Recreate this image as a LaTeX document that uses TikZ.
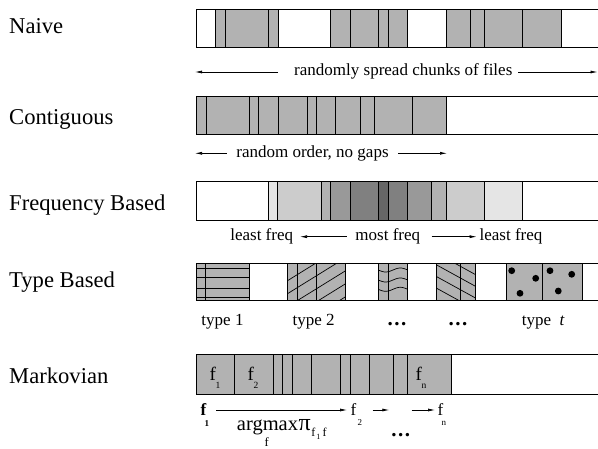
\documentclass[tikz,border=0pt]{standalone}
\usepackage{fontspec}
\setmainfont{Liberation Serif}
\usetikzlibrary{arrows.meta}
\definecolor{chunk}{gray}{0.70}
\definecolor{fq1}{gray}{0.90}
\definecolor{fq2}{gray}{0.80}
\definecolor{fq3}{gray}{0.70}
\definecolor{fq4}{gray}{0.60}
\definecolor{fq5}{gray}{0.50}
\definecolor{fq6}{gray}{0.40}
\begin{document}
\begin{tikzpicture}[x=1pt,y=-1pt,
  barline/.style={line width=0.9pt},
  sep/.style={line width=0.8pt},
  arr/.style={line width=0.7pt,-{Latex[length=7pt,width=3pt]}},
  rowlabel/.style={anchor=base west,inner sep=0,font=\fontsize{22.6}{24}\selectfont},
  small/.style={anchor=base,inner sep=0,font=\fontsize{17}{18}\selectfont},
  flab/.style={anchor=base west,inner sep=0,font=\fontsize{19}{19}\selectfont},
  fsub/.style={anchor=base west,inner sep=0,font=\fontsize{9.5}{10}\selectfont},
  hatch/.style={line width=0.7pt},
  dotsty/.style={anchor=base,inner sep=0,font=\fontsize{21}{21}\selectfont\bfseries}
]
\useasboundingbox (0,0) rectangle (598,449);

% ---------- row labels
\node[rowlabel] (lnaive) at (9,33.3) {Naive};
\node[rowlabel] (lcont) at (9,124.3) {Contiguous};
\node[rowlabel] (lfreq) at (9,210.7) {Frequency Based};
\node[rowlabel] (ltype) at (9,287.3) {Type Based};
\node[rowlabel] (lmark) at (9,384) {Markovian};

% ---------- Naive
\fill[chunk] (215.3,9.3) rectangle (278.3,47.7);
\fill[chunk] (330.7,9.3) rectangle (407.7,47.7);
\fill[chunk] (446,9.3) rectangle (561.3,47.7);
\foreach \x in {196,215.3,225,268.7,278.3,330.7,350,378.7,388.3,407.7,446,470,484,522.7,561.3}
  \draw[sep] (\x,9.3) -- (\x,47.7);
\draw[barline] (196,9.3) -- (598,9.3) (196,47.7) -- (598,47.7);
\node[small] (tnaive) at (403.3,76) {randomly spread chunks of files};
\coordinate (na1) at (278,72); \coordinate (na2) at (195,72);
\coordinate (na3) at (518,72); \coordinate (na4) at (597.5,72);
\draw[arr] (na1) -- (na2);
\draw[arr] (na3) -- (na4);

% ---------- Contiguous
\fill[chunk] (196,96) rectangle (446,134);
\foreach \x in {196,206,249.3,258.7,278,307.3,316.7,335.7,360,374.3,412.7,446}
  \draw[sep] (\x,96) -- (\x,134);
\draw[barline] (196,96) -- (598,96) (196,134) -- (598,134);
\node[small] (tcont) at (312.5,157.7) {random order, no gaps};
\coordinate (ca1) at (226.7,153.3); \coordinate (ca2) at (195,153.3);
\coordinate (ca3) at (398,153.3); \coordinate (ca4) at (447,153.3);
\draw[arr] (ca1) -- (ca2);
\draw[arr] (ca3) -- (ca4);

% ---------- Frequency based
\fill[fq1] (268.3,181.7) rectangle (277.7,220);
\fill[fq2] (277.7,181.7) rectangle (321,220);
\fill[fq3] (321,181.7) rectangle (330.7,220);
\fill[fq4] (330.7,181.7) rectangle (350,220);
\fill[fq5] (350,181.7) rectangle (378.7,220);
\fill[fq6] (378.7,181.7) rectangle (388.3,220);
\fill[fq5] (388.3,181.7) rectangle (407.7,220);
\fill[fq4] (407.7,181.7) rectangle (431.7,220);
\fill[fq3] (431.7,181.7) rectangle (446,220);
\fill[fq2] (446,181.7) rectangle (484.3,220);
\fill[fq1] (484.3,181.7) rectangle (522.7,220);
\foreach \x in {196,268.3,277.7,321,330.7,350,378.7,388.3,407.7,431.7,446,484.3,522.7}
  \draw[sep] (\x,181.7) -- (\x,220);
\draw[barline] (196,181.7) -- (598,181.7) (196,220) -- (598,220);
\node[small] (fl1) at (261.7,241) {least freq};
\node[small] (fm) at (387.8,241) {most freq};
\node[small] (fl2) at (511,241) {least freq};
\coordinate (fa1) at (346.7,236.7); \coordinate (fa2) at (300,236.7);
\coordinate (fa3) at (431.7,236.7); \coordinate (fa4) at (476.7,236.7);
\draw[arr] (fa1) -- (fa2);
\draw[arr] (fa3) -- (fa4);

% ---------- Type based
% block 1: horizontal lines
\fill[chunk] (196,263.3) rectangle (249.3,300.5);
\foreach \y in {268.3,277.7,288.3,297.7}
  \draw[hatch] (196,\y) -- (249.3,\y);
\draw[sep] (205.7,263.3) -- (205.7,300.5);
\draw[sep] (196,263.3) rectangle (249.3,300.5);
% block 2: / hatch
\fill[chunk] (287.3,263.3) rectangle (345.7,300.5);
\begin{scope}
  \clip (287.3,263.3) rectangle (345.7,300.5);
  \foreach \y in {281,294,307,320,333}
    \draw[hatch] (280,\y+4.34) -- (350,\y-39);
\end{scope}
\draw[sep] (297.3,263.3) -- (297.3,300.5) (316.7,263.3) -- (316.7,300.5);
\draw[sep] (287.3,263.3) rectangle (345.7,300.5);
% block 3: wavy
\fill[chunk] (378.3,263.3) rectangle (407.7,300.5);
\foreach \y in {270,280,289.3}
  \draw[hatch] plot[domain=378.3:407.7,samples=25,smooth] (\x,{\y+2*sin((\x-378.3)*12.24)});
\draw[sep] (388.3,263.3) -- (388.3,300.5);
\draw[sep] (378.3,263.3) rectangle (407.7,300.5);
% block 4: \ hatch
\fill[chunk] (436.7,263.3) rectangle (475,300.5);
\begin{scope}
  \clip (436.7,263.3) rectangle (475,300.5);
  \foreach \y in {253.3,265,276.7,288.3}
    \draw[hatch] (430,\y-3.7) -- (480,\y+23.8);
\end{scope}
\draw[sep] (460.7,263.3) -- (460.7,300.5);
\draw[sep] (436.7,263.3) rectangle (475,300.5);
% block 5: dots
\fill[chunk] (506,263.3) rectangle (582.7,300.5);
\foreach \p in {(511.7,270.7),(535.7,278.3),(520,293.3),(550,270.7),(571.7,274.3),(558.3,291)}
  \fill \p circle (3.4);
\draw[sep] (542.3,263.3) -- (542.3,300.5);
\draw[sep] (506,263.3) rectangle (582.7,300.5);
\draw[barline] (196,263.3) -- (598,263.3) (196,300.5) -- (598,300.5);
\node[small] (ty1) at (222.5,326) {type 1};
\node[small] (ty2) at (313.7,326) {type 2};
\node[dotsty] (ty3) at (397,326) {.\kern1.5pt.\kern1.5pt.};
\node[dotsty] (ty4) at (458,326) {.\kern1.5pt.\kern1.5pt.};
\node[small] (tyt) at (543.3,326) {type\ \ \textit{t}};

% ---------- Markovian
\fill[chunk] (196,354.3) rectangle (451,394);
\foreach \x in {196,234.3,273.3,282.7,292.7,311.7,340.7,350,369.3,393.3,407.7,451}
  \draw[sep] (\x,354.3) -- (\x,394);
\draw[barline] (196,354.3) -- (598,354.3) (196,394) -- (598,394);
\node[flab] (m1) at (209.5,380.7) {f};
\node[fsub] (m1s) at (215.5,388.3) {1};
\node[flab] (m2) at (247.5,380.7) {f};
\node[fsub] (m2s) at (253.5,388.3) {2};
\node[flab] (mn) at (415.5,380.7) {f};
\node[fsub] (mns) at (421.5,388.3) {n};

% bottom sequence
\node[anchor=base west,inner sep=0,font=\fontsize{17}{17}\selectfont\bfseries] (b1) at (200.5,415.7) {f};
\node[anchor=base west,inner sep=0,font=\fontsize{9}{9}\selectfont\bfseries] (b1s) at (204.5,426.7) {1};
\node[anchor=base west,inner sep=0,font=\fontsize{17}{17}\selectfont] (b2) at (350.5,415.7) {f};
\node[anchor=base west,inner sep=0,font=\fontsize{9}{9}\selectfont] (b2s) at (357.5,425.7) {2};
\node[anchor=base west,inner sep=0,font=\fontsize{17}{17}\selectfont] (bn) at (437.5,415.7) {f};
\node[anchor=base west,inner sep=0,font=\fontsize{9}{9}\selectfont] (bns) at (441.5,425.7) {n};
\coordinate (ba1) at (216,410); \coordinate (ba2) at (347,410);
\coordinate (ba3) at (372.7,410); \coordinate (ba4) at (389.3,410);
\coordinate (ba5) at (411.7,410); \coordinate (ba6) at (435,410);
\draw[arr] (ba1) -- (ba2);
\draw[arr] (ba3) -- (ba4);
\draw[arr] (ba5) -- (ba6);
\node[anchor=base,inner sep=0,font=\fontsize{20.5}{21}\selectfont] (am) at (267.5,430.7) {argmax};
\node[anchor=base west,inner sep=0,font=\fontsize{24}{24}\selectfont] (pi) at (298.5,430.7) {π};
\node[anchor=base west,inner sep=0,font=\fontsize{12}{12}\selectfont] (pis1) at (311.2,437) {f};
\node[anchor=base west,inner sep=0,font=\fontsize{8}{8}\selectfont] (pis2) at (316.2,439.5) {1};
\node[anchor=base west,inner sep=0,font=\fontsize{12}{12}\selectfont] (pis3) at (322.5,437) {f};
\node[anchor=base,inner sep=0,font=\fontsize{12.5}{13}\selectfont] (amf) at (266.7,446.5) {f};
\node[dotsty] (bdots) at (400.8,437) {.\kern1.5pt.\kern1.5pt.};
\end{tikzpicture}
\end{document}
